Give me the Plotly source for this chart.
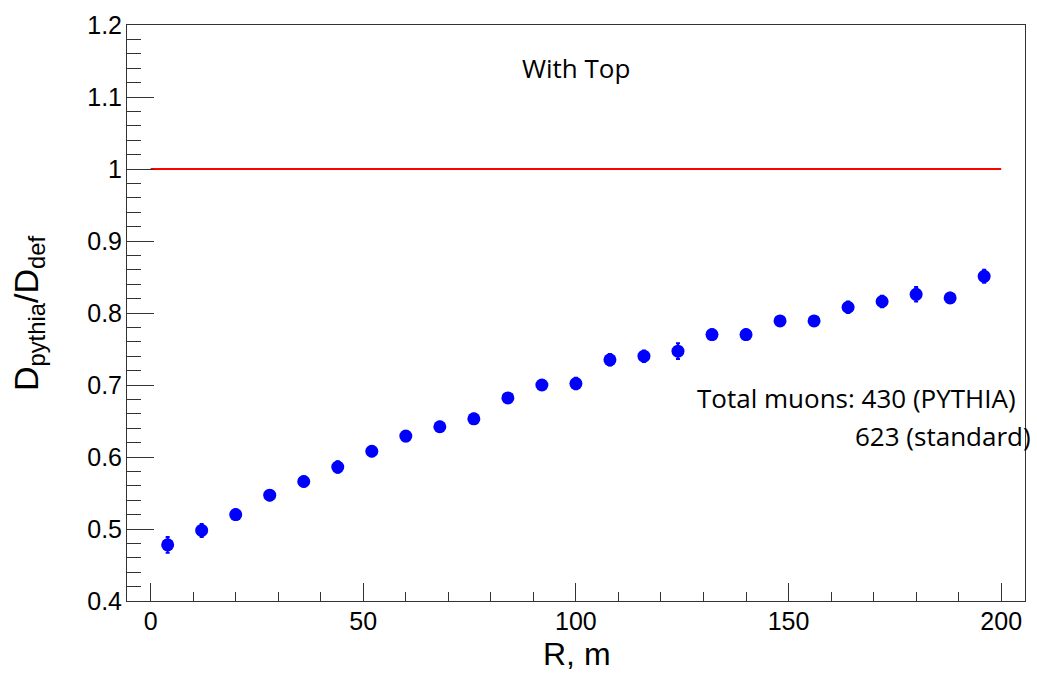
import plotly.graph_objects as go

# Ratio of muon densities (PYTHIA / default) versus core distance
r_m = [4, 12, 20, 28, 36, 44, 52, 60, 68, 76, 84, 92, 100,
       108, 116, 124, 132, 140, 148, 156, 164, 172, 180, 188, 196]
ratio = [0.478, 0.498, 0.520, 0.547, 0.566, 0.586, 0.608, 0.629, 0.642, 0.653,
         0.682, 0.700, 0.702, 0.735, 0.740, 0.747, 0.770, 0.770, 0.789, 0.789,
         0.808, 0.816, 0.826, 0.821, 0.851]
ratio_err = [0.011, 0.009, 0.007, 0.007, 0.007, 0.008, 0.007, 0.007, 0.007, 0.007,
             0.007, 0.007, 0.008, 0.008, 0.008, 0.011, 0.007, 0.007, 0.007, 0.007,
             0.008, 0.008, 0.010, 0.007, 0.009]

ref_x = [0, 200]
ref_y = [1, 1]

W, H = 1037, 677
L, R, T, B = 127, 1026, 19, 601  # plot frame in pixels


def px(x):
    return (x - L) / (R - L)


def py(y):
    return (B - y) / (B - T)


axis_font = dict(family="Liberation Sans, Arial, sans-serif", size=25, color="black")
note_font = dict(family="Open Sans, sans-serif", size=26, color="black")

fig = go.Figure()

fig.add_trace(go.Scatter(
    x=ref_x, y=ref_y, mode="lines",
    line=dict(color="#ff0000", width=2),
    showlegend=False, hoverinfo="skip",
))

fig.add_trace(go.Scatter(
    x=r_m, y=ratio, mode="markers",
    marker=dict(color="#0000ff", size=13, line=dict(width=0)),
    error_y=dict(type="data", array=ratio_err, color="#0000ff", thickness=2, width=2),
    showlegend=False,
))

fig.update_layout(
    width=W, height=H,
    margin=dict(l=L, r=W - R, t=T, b=H - B, pad=0),
    paper_bgcolor="white", plot_bgcolor="white",
    xaxis=dict(
        range=[-5.56, 205.6], showgrid=False, zeroline=False,
        showline=True, linecolor="#333333", linewidth=1, mirror=True,
        ticks="inside", ticklen=18, tickwidth=1, tickcolor="#333333",
        tickmode="array", tickvals=[0, 50, 100, 150, 200],
        ticktext=["0", "50", "100", "150", "200"],
        minor=dict(ticks="inside", ticklen=9, tickwidth=1, tickcolor="#333333",
                   tickvals=[v for v in range(0, 201, 10) if v % 50 != 0]),
        tickfont=axis_font, ticklabelstandoff=-2,
    ),
    yaxis=dict(
        range=[0.4, 1.2], showgrid=False, zeroline=False,
        showline=True, linecolor="#333333", linewidth=1, mirror=True,
        ticks="inside", ticklen=27, tickwidth=1, tickcolor="#333333",
        tickmode="array",
        tickvals=[0.4, 0.5, 0.6, 0.7, 0.8, 0.9, 1.0, 1.1, 1.2],
        ticktext=["0.4", "0.5", "0.6", "0.7", "0.8", "0.9", "1", "1.1", "1.2"],
        minor=dict(ticks="inside", ticklen=14, tickwidth=1, tickcolor="#333333",
                   tickvals=[round(0.4 + 0.02 * i, 2) for i in range(41) if i % 5 != 0]),
        tickfont=axis_font, ticklabelstandoff=-1,
    ),
)

# Axis titles
fig.add_annotation(
    xref="paper", yref="paper", x=px(578), y=py(655),
    text="R, m", showarrow=False, xanchor="center", yanchor="middle",
    font=dict(family="Liberation Sans, Arial, sans-serif", size=32, color="black"),
)
fig.add_annotation(
    xref="paper", yref="paper", x=px(28), y=py(310),
    text="D<sub>pythia</sub>/D<sub>def</sub>", showarrow=False, textangle=-90,
    xanchor="center", yanchor="middle",
    font=dict(family="Liberation Sans, Arial, sans-serif", size=34, color="black"),
)

# Text notes
fig.add_annotation(
    xref="paper", yref="paper", x=px(576), y=py(62),
    text="With Top", showarrow=False, xanchor="center", yanchor="middle",
    font=note_font,
)
fig.add_annotation(
    xref="paper", yref="paper", x=px(1019), y=py(396),
    text="Total muons: 430 (PYTHIA)", showarrow=False, xanchor="right", yanchor="middle",
    font=note_font,
)
fig.add_annotation(
    xref="paper", yref="paper", x=px(1034), y=py(434),
    text="623 (standard)", showarrow=False, xanchor="right", yanchor="middle",
    font=note_font,
)

fig.write_html("out.html")
